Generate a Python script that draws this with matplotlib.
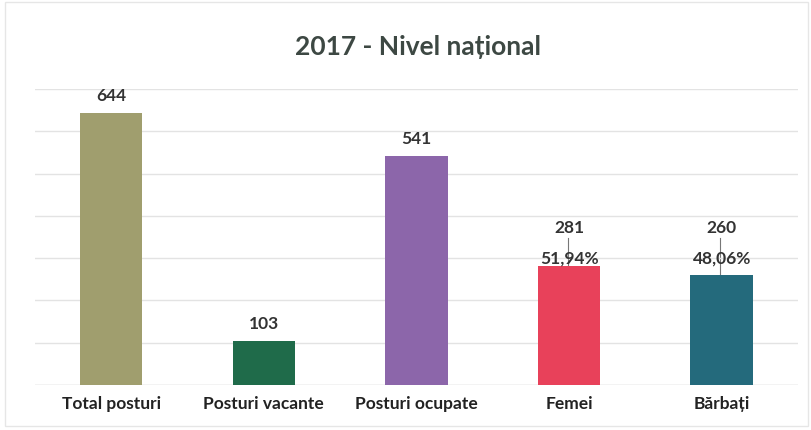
import matplotlib.pyplot as plt
from matplotlib.patches import Rectangle

categories = ["Total posturi", "Posturi vacante", "Posturi ocupate", "Femei", "Bărbați"]
values = [644, 103, 541, 281, 260]
percent_labels = ["", "", "", "51,94%", "48,06%"]
colors = ["#a09e6e", "#1f6b4a", "#8c66aa", "#e8415a", "#246a7c"]

plt.rcParams['font.family'] = ['Lato', 'DejaVu Sans']

fig = plt.figure(figsize=(8.11, 4.30), dpi=100)
ax = fig.add_axes([0.043, 0.105, 0.941, 0.688])

x = list(range(len(categories)))
ax.bar(x, values, width=0.41, color=colors, zorder=2)

ax.set_xlim(-0.5, 4.5)
ax.set_ylim(0, 700)
ax.set_yticks(range(0, 701, 100))
ax.yaxis.grid(True, color="#e3e3e3", linewidth=1, zorder=0)
ax.tick_params(axis='y', left=False, labelleft=False)
ax.tick_params(axis='x', length=0, pad=8)
ax.set_xticks(x)
ax.set_xticklabels(categories, fontsize=12.5, fontweight='bold', color="#222222")
for s in ax.spines.values():
    s.set_visible(False)
ax.axhline(0, color="#dddddd", linewidth=1, zorder=1)

# value labels
for i, v in enumerate(values):
    if percent_labels[i]:
        ax.text(i, 372, str(v), ha='center', va='center', fontsize=12.5,
                fontweight='bold', color="#333333")
        ax.text(i, 300, percent_labels[i], ha='center', va='center', fontsize=12.5,
                fontweight='bold', color="#333333")
        ax.plot([i - 0.01, i - 0.01], [v, 348], color="#777777", linewidth=0.8, zorder=1)
    else:
        ax.text(i, v + 40, str(v), ha='center', va='center', fontsize=12.5,
                fontweight='bold', color="#333333")

fig.text(0.515, 0.89, "2017 - Nivel național", ha='center', va='center',
         fontsize=19, fontweight='bold', color="#3d4843")

fig.patches.append(Rectangle((0.006, 0.01), 0.99, 0.985, transform=fig.transFigure,
                             fill=False, edgecolor="#e6e6e6", linewidth=1))

fig.savefig("out.png", dpi=100, facecolor="white")
